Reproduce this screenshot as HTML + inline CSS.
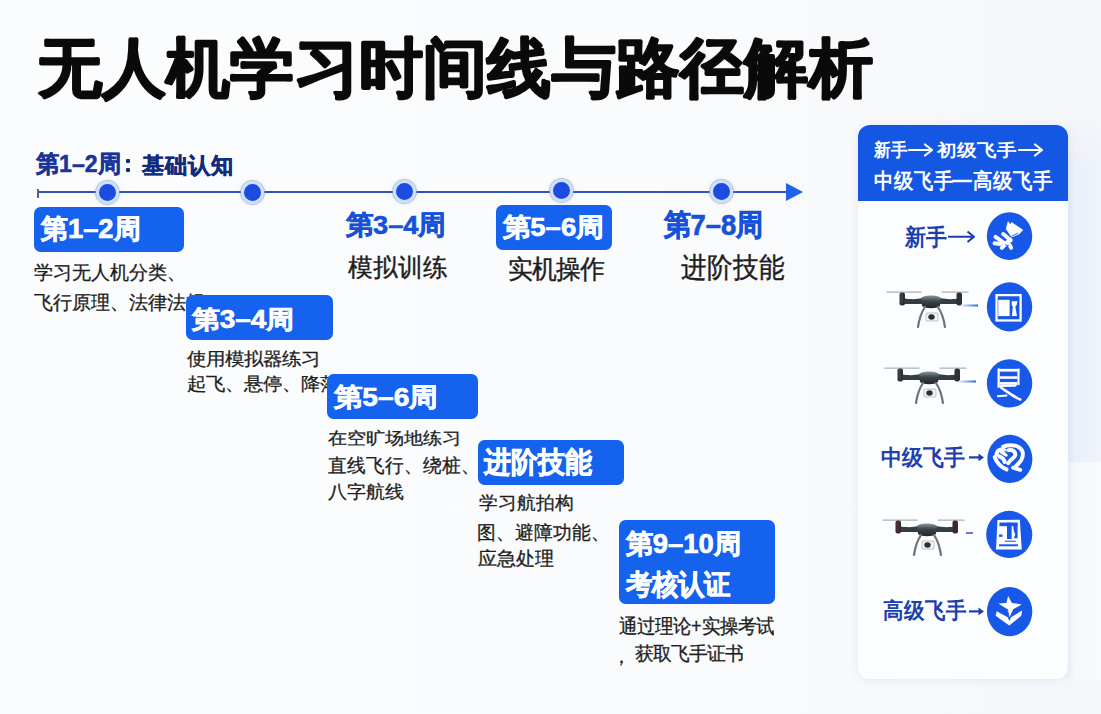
<!DOCTYPE html>
<html><head><meta charset="utf-8">
<style>
*{margin:0;padding:0;box-sizing:border-box}
html,body{width:1101px;height:714px;overflow:hidden}
body{font-family:"Liberation Sans",sans-serif;background:linear-gradient(90deg,#fbfcfd 0%,#fafbfc 60%,#f4f6fa 100%);position:relative}
.a{position:absolute}
.t{position:absolute;white-space:nowrap;line-height:1;transform-origin:0 0}
.line{left:37px;top:190.8px;width:752px;height:2.3px;background:#3152bb;z-index:1}
.tick{left:37px;top:188.5px;width:1.6px;height:9px;background:#56638f;z-index:1}
.arrow{left:786px;top:183px;width:0;height:0;border-top:9px solid transparent;border-bottom:9px solid transparent;border-left:17px solid #1e62e6;z-index:1}
.dot{width:23px;height:23px;border-radius:50%;background:#1b4be0;border:3.2px solid #cfe1f9;box-shadow:0 0 0 1px rgba(140,160,200,.5),0 0 4px rgba(120,160,230,.35);z-index:2}
.box{background:#1562ee;border-radius:6.5px;z-index:2}
.panel{left:858px;top:125px;width:210px;height:554px;background:#fcfdff;border-radius:12px;box-shadow:0 1px 8px rgba(110,140,200,.14);overflow:hidden;z-index:1}
.phead{position:absolute;left:0;top:0;width:210px;height:76px;background:#1457e2}
.wa{position:absolute;z-index:3}
</style></head><body>
<svg class="a" style="left:0;top:0;z-index:1" width="900" height="120"><text x="37.5" y="89.5" font-family="Liberation Sans, sans-serif" font-weight="700" font-size="64" fill="#0a0a0a" stroke="#0a0a0a" stroke-width="2.3" stroke-linejoin="round" letter-spacing="0.25">无人机学习时间线与路径解析</text></svg>
<div class="a line"></div>
<div class="a tick"></div>
<div class="a arrow"></div>
<div class="a dot" style="left:95.5px;top:180.5px"></div>
<div class="a dot" style="left:241px;top:181px"></div>
<div class="a dot" style="left:393px;top:179.5px"></div>
<div class="a dot" style="left:550px;top:179px"></div>
<div class="a dot" style="left:709.5px;top:179.5px"></div>

<div class="a box" style="left:496px;top:205px;width:116px;height:45px"></div>
<div class="a box" style="left:34px;top:207px;width:150px;height:45px"></div>
<div class="a box" style="left:186px;top:295px;width:147px;height:45px"></div>
<div class="a box" style="left:327px;top:373.5px;width:151px;height:45px"></div>
<div class="a box" style="left:477.5px;top:440px;width:146px;height:44.5px"></div>
<div class="a box" style="left:619px;top:519.5px;width:156px;height:84px"></div>

<div class="a band" style="left:1066px;top:118px;width:35px;height:344px;background:linear-gradient(180deg,#f4f6fa 0px,rgba(244,246,250,0) 50px),linear-gradient(90deg,#e4eaf7 0%,#ebf0f9 25%,#eff3fa 100%);z-index:0"></div>
<div class="a" style="left:1066px;top:462px;width:35px;height:218px;background:linear-gradient(90deg,#eff3f9 0%,#f6f8fc 30%,#f8fafc 100%);z-index:0"></div>
<div class="a panel"><div class="phead"></div></div>

<!-- header arrows (white) -->
<svg class="wa" style="left:905px;top:140px" width="32" height="20"><path d="M4 10 H26 M20 4.5 L27 10 L20 15.5" stroke="#fff" stroke-width="2.2" fill="none" stroke-linecap="round" stroke-linejoin="round"/></svg>
<svg class="wa" style="left:1015px;top:140px" width="32" height="20"><path d="M4 10 H26 M20 4.5 L27 10 L20 15.5" stroke="#fff" stroke-width="2.2" fill="none" stroke-linecap="round" stroke-linejoin="round"/></svg>
<svg class="wa" style="left:950px;top:170px" width="24" height="20"><path d="M3 11 H21" stroke="#fff" stroke-width="2.6" fill="none" stroke-linecap="round"/></svg>

<!-- level arrows (navy) -->
<svg class="wa" style="left:945px;top:226px" width="34" height="22"><path d="M3 10.7 H27 M22.5 5.5 L29 10.7 L22.5 16" stroke="#1d3fae" stroke-width="2.1" fill="none" stroke-linejoin="round"/></svg>
<svg class="wa" style="left:967px;top:450px" width="20" height="16"><path d="M2 7.4 H14" stroke="#1d3fae" stroke-width="2.2" fill="none"/><path d="M11.5 3.5 L17 7.4 L11.5 11.3 Z" fill="#1d3fae"/></svg>
<svg class="wa" style="left:967px;top:604px" width="20" height="16"><path d="M2 7.4 H14" stroke="#1d3fae" stroke-width="2.2" fill="none"/><path d="M11.5 3.5 L17 7.4 L11.5 11.3 Z" fill="#1d3fae"/></svg>

<div class="a" style="left:125.5px;top:158.5px;width:4.2px;height:4.2px;border-radius:1px;background:#142a7c;z-index:1"></div>
<div class="a" style="left:125.5px;top:168px;width:4.2px;height:4.2px;border-radius:1px;background:#142a7c;z-index:1"></div>
<svg class="wa" style="left:982px;top:210px" width="56" height="54" viewBox="0 0 740 714"><ellipse cx="364" cy="346" rx="300" ry="316" fill="#1858e8"/>
<path d="M342 148 L378 188 L390 158 L545 265 L490 322 L392 362 L315 250 Z" fill="#ffffff"/>
<path d="M388 350 L475 305" stroke="#1858e8" stroke-width="12"/>
<g stroke="#ffffff" stroke-width="52" stroke-linecap="round" stroke-linejoin="round" fill="none">
<path d="M178 355 L305 445"/><path d="M165 440 L240 450"/><path d="M262 500 L340 420"/><path d="M340 420 L385 500"/><path d="M280 318 L380 400"/>
</g>
<path d="M300 460 L360 470" stroke="#1858e8" stroke-width="10"/></svg>
<svg class="wa" style="left:982px;top:280px" width="56" height="54" viewBox="0 0 740 714"><ellipse cx="364" cy="355" rx="300" ry="325" fill="#1858e8"/>
<rect x="192" y="200" width="318" height="335" fill="none" stroke="#ffffff" stroke-width="30"/>
<rect x="215" y="262" width="150" height="215" fill="#ffffff"/>
<path d="M392 280 L470 280 L458 330 L440 352 L462 475 L395 475 L408 352 L392 330 Z" fill="#ffffff"/></svg>
<svg class="wa" style="left:982px;top:356px" width="56" height="54" viewBox="0 0 740 714"><ellipse cx="364" cy="362" rx="300" ry="320" fill="#1858e8"/>
<g fill="#ffffff">
<rect x="205" y="165" width="30" height="255"/>
<rect x="468" y="168" width="28" height="215"/>
<rect x="215" y="170" width="280" height="36"/>
<rect x="235" y="268" width="232" height="34"/>
<rect x="235" y="345" width="232" height="36"/>
<path d="M235 385 L470 380 L440 405 L235 410 Z"/>
</g>
<g stroke="#ffffff" stroke-linecap="round" fill="none">
<path d="M255 420 C330 470 420 540 505 575" stroke-width="34"/>
<path d="M208 532 L325 522" stroke-width="24"/>
</g></svg>
<svg class="wa" style="left:982px;top:432px" width="56" height="54" viewBox="0 0 740 714"><ellipse cx="368" cy="356" rx="298" ry="318" fill="#1858e8"/>
<g stroke="#ffffff" stroke-linecap="round" stroke-linejoin="round" fill="none" stroke-width="52">
<path d="M192 300 C195 240 250 212 302 245"/>
<path d="M278 192 C380 160 505 172 535 258 C558 335 505 400 448 452"/>
<path d="M168 332 C200 420 262 470 325 495"/>
<path d="M352 240 C432 226 470 302 410 346 C377 370 357 390 347 412"/>
<path d="M228 322 C266 337 294 366 300 398"/>
<path d="M412 472 L505 500"/>
<path d="M258 262 L318 300"/>
</g>
<path d="M300 250 C330 280 350 300 360 330" stroke="#1858e8" stroke-width="14" fill="none"/></svg>
<svg class="wa" style="left:982px;top:508px" width="56" height="54" viewBox="0 0 740 714"><ellipse cx="360" cy="350" rx="305" ry="312" fill="#1858e8"/>
<path d="M205 160 L500 155 L525 548 L185 548 Z" fill="#ffffff"/>
<g fill="#1858e8">
<rect x="230" y="192" width="240" height="48"/>
<rect x="330" y="195" width="62" height="215"/>
<path d="M410 200 L470 200 L470 400 L420 400 L440 350 L420 300 Z"/>
<rect x="225" y="350" width="45" height="32"/>
<rect x="300" y="432" width="145" height="14"/>
<rect x="225" y="480" width="250" height="26"/>
</g></svg>
<svg class="wa" style="left:982px;top:584px" width="56" height="54" viewBox="0 0 740 714"><ellipse cx="365" cy="365" rx="300" ry="325" fill="#1858e8"/>
<g fill="#ffffff">
<path d="M345 160 L395 250 L525 270 L420 330 L362 460 L332 330 L215 258 L322 250 Z"/>
<path d="M195 360 L340 440 L362 490 L385 440 L530 350 L520 420 L360 550 L180 420 Z"/>
</g>
<path d="M335 330 L362 455 L420 330" stroke="#1858e8" stroke-width="12" fill="none"/></svg>
<svg class="wa" style="left:884px;top:290px" width="95.0" height="40.0" viewBox="0 0 95 40">
<defs><linearGradient id="tailg" gradientUnits="userSpaceOnUse" x1="77" x2="94" y1="0" y2="0"><stop offset="0" stop-color="#e8eefc"/><stop offset="1" stop-color="#2b5fe0"/></linearGradient>
<linearGradient id="bodyg" x1="0" x2="0" y1="0" y2="1"><stop offset="0" stop-color="#8a9aa3"/><stop offset="0.45" stop-color="#3a4449"/><stop offset="1" stop-color="#1f262a"/></linearGradient></defs>
<path d="M3 2.2 L37 2.2 M58 2.2 L84 2.2" stroke="#9aa0a4" stroke-width="1.3" stroke-linecap="round" opacity="0.8"/>
<path d="M18 8 C28 10 34 9 38 8 L38 14 C32 14 26 14 18 14 Z" fill="#353d42"/>
<path d="M56 8 C62 9 68 10 76 8 L76 14 C70 14 62 14 56 14 Z" fill="#353d42"/>
<rect x="15.5" y="2.5" width="5.5" height="13" rx="2" fill="#2b3236"/>
<rect x="16.5" y="3" width="2" height="10" fill="#4a5258" opacity="0.6"/>
<rect x="72.5" y="2.5" width="5.5" height="13" rx="2" fill="#2b3236"/>
<path d="M37 8 C40 4.5 54 4.5 57 8 L56 16 C52 19 42 19 38 16 Z" fill="url(#bodyg)"/>
<path d="M41 17 C37 23 35 30 34 37" stroke="#6d7377" stroke-width="2.2" fill="none" stroke-linecap="round"/>
<path d="M54 17 C58 23 60 30 61 37" stroke="#6d7377" stroke-width="2.2" fill="none" stroke-linecap="round"/>
<rect x="42" y="23" width="12" height="8" rx="1" fill="#f2f3f4" stroke="#9aa0a5" stroke-width="0.6"/>
<ellipse cx="47.5" cy="27" rx="3.2" ry="2.7" fill="#2a2f33"/>
<path d="M77 15.5 L94 15.5" stroke="url(#tailg)" stroke-width="2"/>
</svg>
<svg class="wa" style="left:882px;top:366px" width="95.0" height="40.0" viewBox="0 0 95 40">
<defs><linearGradient id="tailg" gradientUnits="userSpaceOnUse" x1="77" x2="94" y1="0" y2="0"><stop offset="0" stop-color="#e8eefc"/><stop offset="1" stop-color="#2b5fe0"/></linearGradient>
<linearGradient id="bodyg" x1="0" x2="0" y1="0" y2="1"><stop offset="0" stop-color="#8a9aa3"/><stop offset="0.45" stop-color="#3a4449"/><stop offset="1" stop-color="#1f262a"/></linearGradient></defs>
<path d="M3 2.2 L37 2.2 M58 2.2 L84 2.2" stroke="#9aa0a4" stroke-width="1.3" stroke-linecap="round" opacity="0.8"/>
<path d="M18 8 C28 10 34 9 38 8 L38 14 C32 14 26 14 18 14 Z" fill="#353d42"/>
<path d="M56 8 C62 9 68 10 76 8 L76 14 C70 14 62 14 56 14 Z" fill="#353d42"/>
<rect x="15.5" y="2.5" width="5.5" height="13" rx="2" fill="#2b3236"/>
<rect x="16.5" y="3" width="2" height="10" fill="#4a5258" opacity="0.6"/>
<rect x="72.5" y="2.5" width="5.5" height="13" rx="2" fill="#2b3236"/>
<path d="M37 8 C40 4.5 54 4.5 57 8 L56 16 C52 19 42 19 38 16 Z" fill="url(#bodyg)"/>
<path d="M41 17 C37 23 35 30 34 37" stroke="#6d7377" stroke-width="2.2" fill="none" stroke-linecap="round"/>
<path d="M54 17 C58 23 60 30 61 37" stroke="#6d7377" stroke-width="2.2" fill="none" stroke-linecap="round"/>
<rect x="42" y="23" width="12" height="8" rx="1" fill="#f2f3f4" stroke="#9aa0a5" stroke-width="0.6"/>
<ellipse cx="47.5" cy="27" rx="3.2" ry="2.7" fill="#2a2f33"/>
<path d="M77 15.5 L94 15.5" stroke="url(#tailg)" stroke-width="2"/>
</svg>
<svg class="wa" style="left:880px;top:518px" width="95.0" height="40.0" viewBox="0 0 95 40">
<defs><linearGradient id="tailg" gradientUnits="userSpaceOnUse" x1="77" x2="94" y1="0" y2="0"><stop offset="0" stop-color="#e8eefc"/><stop offset="1" stop-color="#2b5fe0"/></linearGradient>
<linearGradient id="bodyg" x1="0" x2="0" y1="0" y2="1"><stop offset="0" stop-color="#8a9aa3"/><stop offset="0.45" stop-color="#3a4449"/><stop offset="1" stop-color="#1f262a"/></linearGradient></defs>
<path d="M3 2.2 L37 2.2 M58 2.2 L84 2.2" stroke="#9aa0a4" stroke-width="1.3" stroke-linecap="round" opacity="0.8"/>
<path d="M18 8 C28 10 34 9 38 8 L38 14 C32 14 26 14 18 14 Z" fill="#353d42"/>
<path d="M56 8 C62 9 68 10 76 8 L76 14 C70 14 62 14 56 14 Z" fill="#353d42"/>
<rect x="15.5" y="2.5" width="5.5" height="13" rx="2" fill="#3a2a2e"/>
<rect x="16.5" y="3" width="2" height="10" fill="#7a2a2a" opacity="0.6"/>
<rect x="72.5" y="2.5" width="5.5" height="13" rx="2" fill="#3a2a2e"/>
<path d="M37 8 C40 4.5 54 4.5 57 8 L56 16 C52 19 42 19 38 16 Z" fill="url(#bodyg)"/>
<path d="M41 17 C37 23 35 30 34 37" stroke="#6d7377" stroke-width="2.2" fill="none" stroke-linecap="round"/>
<path d="M54 17 C58 23 60 30 61 37" stroke="#6d7377" stroke-width="2.2" fill="none" stroke-linecap="round"/>
<rect x="42" y="23" width="12" height="8" rx="1" fill="#f2f3f4" stroke="#9aa0a5" stroke-width="0.6"/>
<ellipse cx="47.5" cy="27" rx="3.2" ry="2.7" fill="#2a2f33"/>
<path d="M86 15 L93 15" stroke="#5b7fe0" stroke-width="2"/>
</svg>
<div id="sub1" class="t" style="z-index:1;left:36.11px;top:152.20px;font-size:23.12px;transform:scaleY(1.030);color:#1a3598;font-weight:700;text-shadow:none;-webkit-text-stroke:0.50px currentColor">第1–2周</div>
<div id="sub2" class="t" style="z-index:1;left:141.51px;top:154.91px;font-size:22.60px;transform:scaleY(0.990);color:#142a7c;font-weight:700;text-shadow:none;-webkit-text-stroke:0.50px currentColor">基础认知</div>
<div id="b1" class="t" style="z-index:3;left:40.95px;top:215.09px;font-size:27.35px;transform:scaleY(1.004);color:#ffffff;font-weight:700;text-shadow:none;-webkit-text-stroke:0.70px currentColor">第1–2周</div>
<div id="d1a" class="t" style="z-index:1;left:34.23px;top:262.76px;font-size:19.26px;transform:scaleY(0.998);color:#1e1e1e;font-weight:400;text-shadow:none;-webkit-text-stroke:0.30px currentColor">学习无人机分类、</div>
<div id="l34" class="t" style="z-index:1;left:346.12px;top:211.57px;font-size:27.20px;transform:scaleY(0.975);color:#1652d8;font-weight:700;text-shadow:none;-webkit-text-stroke:0.60px currentColor">第3–4周</div>
<div id="l34b" class="t" style="z-index:1;left:347.68px;top:255.30px;font-size:24.90px;transform:scaleY(1.011);color:#1e1e1e;font-weight:400;text-shadow:none;-webkit-text-stroke:0.40px currentColor">模拟训练</div>
<div id="b56" class="t" style="z-index:3;left:503.34px;top:214.82px;font-size:27.47px;transform:scaleY(0.934);color:#ffffff;font-weight:700;text-shadow:none;-webkit-text-stroke:0.70px currentColor">第5–6周</div>
<div id="l56b" class="t" style="z-index:1;left:507.50px;top:256.86px;font-size:24.33px;transform:scaleY(1.049);color:#1e1e1e;font-weight:400;text-shadow:none;-webkit-text-stroke:0.40px currentColor">实机操作</div>
<div id="l78" class="t" style="z-index:1;left:663.57px;top:209.64px;font-size:27.38px;transform:scaleY(1.108);color:#1652d8;font-weight:700;text-shadow:none;-webkit-text-stroke:0.60px currentColor">第7–8周</div>
<div id="l78b" class="t" style="z-index:1;left:681.00px;top:253.71px;font-size:25.73px;transform:scaleY(1.093);color:#1e1e1e;font-weight:400;text-shadow:none;-webkit-text-stroke:0.40px currentColor">进阶技能</div>
<div id="b2" class="t" style="z-index:3;left:191.68px;top:307.18px;font-size:28.00px;transform:scaleY(0.894);color:#ffffff;font-weight:700;text-shadow:none;-webkit-text-stroke:0.70px currentColor">第3–4周</div>
<div id="d2a" class="t" style="z-index:1;left:187.00px;top:350.21px;font-size:19.27px;transform:scaleY(0.924);color:#1e1e1e;font-weight:400;text-shadow:none;-webkit-text-stroke:0.30px currentColor">使用模拟器练习</div>
<div id="b3" class="t" style="z-index:3;left:334.35px;top:383.93px;font-size:28.17px;transform:scaleY(0.905);color:#ffffff;font-weight:700;text-shadow:none;-webkit-text-stroke:0.70px currentColor">第5–6周</div>
<div id="d3a" class="t" style="z-index:1;left:328.00px;top:429.91px;font-size:19.17px;transform:scaleY(0.890);color:#1e1e1e;font-weight:400;text-shadow:none;-webkit-text-stroke:0.30px currentColor">在空旷场地练习</div>
<div id="d3b" class="t" style="z-index:1;left:328.00px;top:455.65px;font-size:19.12px;transform:scaleY(1.018);color:#1e1e1e;font-weight:400;text-shadow:none;-webkit-text-stroke:0.30px currentColor">直线飞行、绕桩、</div>
<div id="d3c" class="t" style="z-index:1;left:328.00px;top:482.64px;font-size:19.00px;transform:scaleY(0.947);color:#1e1e1e;font-weight:400;text-shadow:none;-webkit-text-stroke:0.30px currentColor">八字航线</div>
<div id="b4" class="t" style="z-index:3;left:483.94px;top:448.37px;font-size:26.52px;transform:scaleY(1.075);color:#ffffff;font-weight:700;text-shadow:none;-webkit-text-stroke:0.70px currentColor">进阶技能</div>
<div id="d4a" class="t" style="z-index:1;left:478.98px;top:494.41px;font-size:19.09px;transform:scaleY(0.962);color:#1e1e1e;font-weight:400;text-shadow:none;-webkit-text-stroke:0.30px currentColor">学习航拍构</div>
<div id="d4b" class="t" style="z-index:1;left:477.49px;top:523.86px;font-size:18.62px;transform:scaleY(1.013);color:#1e1e1e;font-weight:400;text-shadow:none;-webkit-text-stroke:0.30px currentColor">图、避障功能、</div>
<div id="d4c" class="t" style="z-index:1;left:478.43px;top:549.99px;font-size:18.66px;transform:scaleY(0.997);color:#1e1e1e;font-weight:400;text-shadow:none;-webkit-text-stroke:0.30px currentColor">应急处理</div>
<div id="b5a" class="t" style="z-index:3;left:625.79px;top:529.76px;font-size:27.42px;transform:scaleY(0.989);color:#ffffff;font-weight:700;text-shadow:none;-webkit-text-stroke:0.70px currentColor">第9–10周</div>
<div id="b5b" class="t" style="z-index:3;left:625.94px;top:570.66px;font-size:26.40px;transform:scaleY(1.063);color:#ffffff;font-weight:700;text-shadow:none;-webkit-text-stroke:0.70px currentColor">考核认证</div>
<div id="d5a" class="t" style="z-index:1;left:619.00px;top:616.63px;font-size:18.07px;transform:scaleY(1.081);color:#1e1e1e;font-weight:400;text-shadow:none;-webkit-text-stroke:0.30px currentColor">通过理论+实操考试</div>
<div id="d5b" class="t" style="z-index:1;left:635.00px;top:645.02px;font-size:18.34px;transform:scaleY(1.012);color:#1e1e1e;font-weight:400;text-shadow:none;-webkit-text-stroke:0.30px currentColor">获取飞手证书</div>
<div id="p1a" class="t" style="z-index:3;left:873.64px;top:141.33px;font-size:16.98px;transform:scaleY(1.086);color:#ffffff;font-weight:700;text-shadow:none;-webkit-text-stroke:0">新手</div>
<div id="p1b" class="t" style="z-index:3;left:936.82px;top:141.41px;font-size:19.98px;transform:scaleY(0.873);color:#ffffff;font-weight:700;text-shadow:none;-webkit-text-stroke:0">初级飞手</div>
<div id="p2a" class="t" style="z-index:3;left:874.04px;top:171.20px;font-size:19.51px;transform:scaleY(1.092);color:#ffffff;font-weight:700;text-shadow:none;-webkit-text-stroke:0">中级飞手</div>
<div id="p2b" class="t" style="z-index:3;left:973.00px;top:170.62px;font-size:19.74px;transform:scaleY(1.079);color:#ffffff;font-weight:700;text-shadow:none;-webkit-text-stroke:0">高级飞手</div>
<div id="v1" class="t" style="z-index:1;left:904.78px;top:225.02px;font-size:21.14px;transform:scaleY(1.096);color:#1d3fae;font-weight:700;text-shadow:none;-webkit-text-stroke:0">新手</div>
<div id="v4" class="t" style="z-index:1;left:881.03px;top:446.27px;font-size:21.23px;transform:scaleY(1.050);color:#1d3fae;font-weight:700;text-shadow:none;-webkit-text-stroke:0">中级飞手</div>
<div id="v6" class="t" style="z-index:1;left:882.53px;top:600.15px;font-size:20.87px;transform:scaleY(1.075);color:#1d3fae;font-weight:700;text-shadow:none;-webkit-text-stroke:0">高级飞手</div>
<div id="d1b" class="t" style="left:34.23px;top:293.36px;font-size:19.26px;transform:scaleY(0.998);color:#1e1e1e;font-weight:400;text-shadow:none;-webkit-text-stroke:0.30px currentColor">飞行原理、法律法规</div>
<div id="d2b" class="t" style="left:187.00px;top:375.21px;font-size:19.27px;transform:scaleY(0.924);color:#1e1e1e;font-weight:400;text-shadow:none;-webkit-text-stroke:0.30px currentColor">起飞、悬停、降落</div>
<div id="d5c" class="t" style="left:611.50px;top:648.02px;font-size:18.34px;transform:scaleY(1.012);color:#1e1e1e;font-weight:400;text-shadow:none;-webkit-text-stroke:0.30px currentColor">，</div>

</body></html>
